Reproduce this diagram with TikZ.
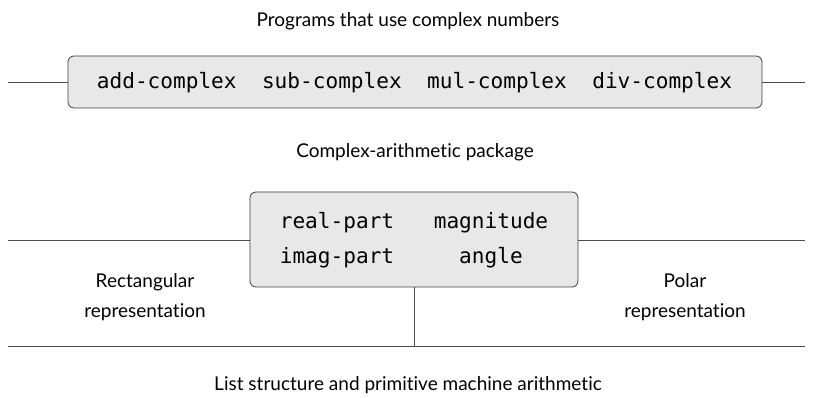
\documentclass[tikz,border=0pt]{standalone}
\usepackage{fontspec}
\setmainfont[Ligatures={NoCommon}]{Lato}
\setmonofont{DejaVu Sans Mono}
\tikzset{
  lbl/.style={font=\fontsize{19}{23}\selectfont, anchor=base, inner sep=0pt},
  code/.style={font=\ttfamily\fontsize{21.1}{25}\selectfont, anchor=base, inner sep=0pt},
  box/.style={draw=black!75, fill=black!9, rounded corners=6pt, line width=0.8pt, inner sep=0pt},
  rule/.style={draw=black!70, line width=0.8pt}
}
\begin{document}
\begin{tikzpicture}[x=1pt,y=-1pt]
\useasboundingbox (0,0) rectangle (815,398);
% labels
\node[lbl] (t1) at (408,27) {Programs that use complex numbers};
\node[lbl] (t2) at (415,158) {Complex-arithmetic package};
\node[lbl] (t3) at (408,391) {List structure and primitive machine arithmetic};
\node[lbl] (rect1) at (145,288) {Rectangular};
\node[lbl] (rect2) at (145,318) {representation};
\node[lbl] (pol1) at (685,288) {Polar};
\node[lbl] (pol2) at (685,318) {representation};
% top box
\node[box, minimum width=694pt, minimum height=52pt] (top) at (415,82) {};
\node[code] (ops) at (414.5,89) {add-complex\ \ sub-complex\ \ mul-complex\ \ div-complex};
\coordinate (tl) at (8,82);
\coordinate (tr) at (805,82);
\draw[rule] (tl) -- (top.west);
\draw[rule] (top.east) -- (tr);
% middle box
\coordinate (ml) at (8,240);
\coordinate (mr) at (805,240);
\coordinate (bl) at (8,346);
\coordinate (br) at (805,346);
\draw[rule] (ml) -- (mr);
\draw[rule] (bl) -- (br);
\node[box, minimum width=328pt, minimum height=95pt] (mid) at (414,239.5) {};
\coordinate (vb) at (mid.south |- bl);
\draw[rule] (mid.south) -- (vb);
\node[code] (rp) at (337,229) {real-part};
\node[code] (ip) at (337,264) {imag-part};
\node[code] (mg) at (491,229) {magnitude};
\node[code] (an) at (491,264) {angle};
\end{tikzpicture}
\end{document}
